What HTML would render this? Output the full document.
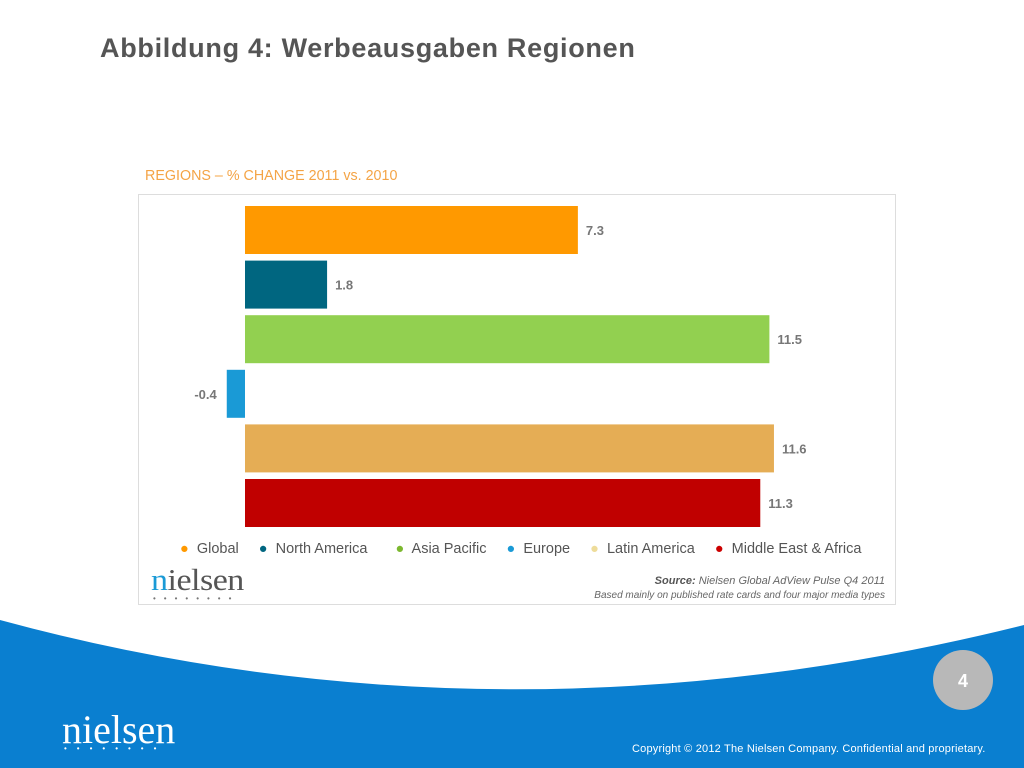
<!DOCTYPE html>
<html><head><meta charset="utf-8"><style>
body{margin:0;width:1024px;height:768px;overflow:hidden;background:#fff;font-family:"Liberation Sans",sans-serif;position:relative}
.abs{position:absolute}
</style></head><body>
<div class="abs" style="left:100px;top:33px;font-size:27px;font-weight:bold;color:#555;letter-spacing:0.7px">Abbildung 4: Werbeausgaben Regionen</div>
<div class="abs" style="left:145px;top:168px;font-size:14.3px;color:#f4a446">REGIONS – % CHANGE 2011 vs. 2010</div>
<div class="abs" style="left:138px;top:194px;width:758px;height:411px;border:1px solid #ddd;box-sizing:border-box"></div>
<svg class="abs" id="chart" style="left:0;top:0" width="1024" height="768"></svg>
<div class="abs" style="left:180px;top:541px;font-size:14.5px;color:#555;white-space:nowrap">
<span><span style="color:#f90">●</span>&nbsp; Global</span>
<span style="margin-left:16px"><span style="color:#006680">●</span>&nbsp; North America</span>
<span style="margin-left:24px"><span style="color:#7cb82f">●</span>&nbsp; Asia Pacific</span>
<span style="margin-left:16px"><span style="color:#1a9ad6">●</span>&nbsp; Europe</span>
<span style="margin-left:16px"><span style="color:#eedc9a">●</span>&nbsp; Latin America</span>
<span style="margin-left:16px"><span style="color:#c00">●</span>&nbsp; Middle East &amp; Africa</span>
</div>
<div class="abs" style="left:151px;top:562px;font-family:'Liberation Serif',serif;font-size:34px;color:#555;letter-spacing:-0.5px;transform:scaleY(0.9)"><span style="color:#1a9ad6">n</span>ielsen</div>
<div class="abs" style="left:153px;top:594px;font-size:8px;color:#777;letter-spacing:8px">••••••••</div>
<div class="abs" style="right:139px;top:574px;text-align:right;font-size:11px;color:#666;font-style:italic;line-height:14px"><b style="color:#555">Source:</b> Nielsen Global AdView Pulse Q4 2011<br><span style="font-size:10px">Based mainly on published rate cards and four major media types</span></div>
<svg class="abs" style="left:0;top:0" width="1024" height="768">
<path d="M0 620 Q500 756 1024 625 L1024 768 L0 768 Z" fill="#0a7fd0"/>
<circle cx="963" cy="680" r="30" fill="#b8b8b8"/>
<text x="963" y="687" text-anchor="middle" font-size="18" font-weight="bold" fill="#fff" font-family="Liberation Sans">4</text>
</svg>
<div class="abs" style="left:62px;top:706px;font-family:'Liberation Serif',serif;font-size:40px;color:#fff;letter-spacing:0px">nielsen</div>
<div class="abs" style="left:64px;top:744px;font-size:8px;color:#fff;letter-spacing:10px">••••••••</div>
<div class="abs" style="left:632px;top:743px;font-size:11px;color:#fff;letter-spacing:0.2px">Copyright © 2012 The Nielsen Company. Confidential and proprietary.</div>
<script>
const categories=["Global","North America","Asia Pacific","Europe","Latin America","Middle East & Africa"];
const values=[7.3,1.8,11.5,-0.4,11.6,11.3];
const labels=["7.3","1.8","11.5","-0.4","11.6","11.3"];
const colors=["#ff9900","#006680","#92d050","#1a9ad6","#e5ad55","#c00000"];
const svg=document.getElementById('chart');
const NS="http://www.w3.org/2000/svg";
const x0=245,scale=45.6,top0=206,pitch=54.6,bh=48;
function xs(v){return x0+v*scale;}
function ys(i){return top0+i*pitch;}
values.forEach((v,i)=>{
 const r=document.createElementNS(NS,'rect');
 r.setAttribute('x',Math.min(xs(0),xs(v)));r.setAttribute('y',ys(i));
 r.setAttribute('width',Math.abs(xs(v)-xs(0)));r.setAttribute('height',bh);
 r.setAttribute('fill',colors[i]);
 
 
 svg.appendChild(r);
 const t=document.createElementNS(NS,'text');
 t.setAttribute('x',v>=0?xs(v)+8:xs(v)-10);
 t.setAttribute('y',ys(i)+bh/2+5);
 t.setAttribute('text-anchor',v>=0?'start':'end');
 t.setAttribute('font-size','13');t.setAttribute('font-weight','bold');
 t.setAttribute('fill','#777');t.setAttribute('font-family','Liberation Sans');
 t.textContent=labels[i];
 
 
 svg.appendChild(t);
});
</script>
</body></html>
